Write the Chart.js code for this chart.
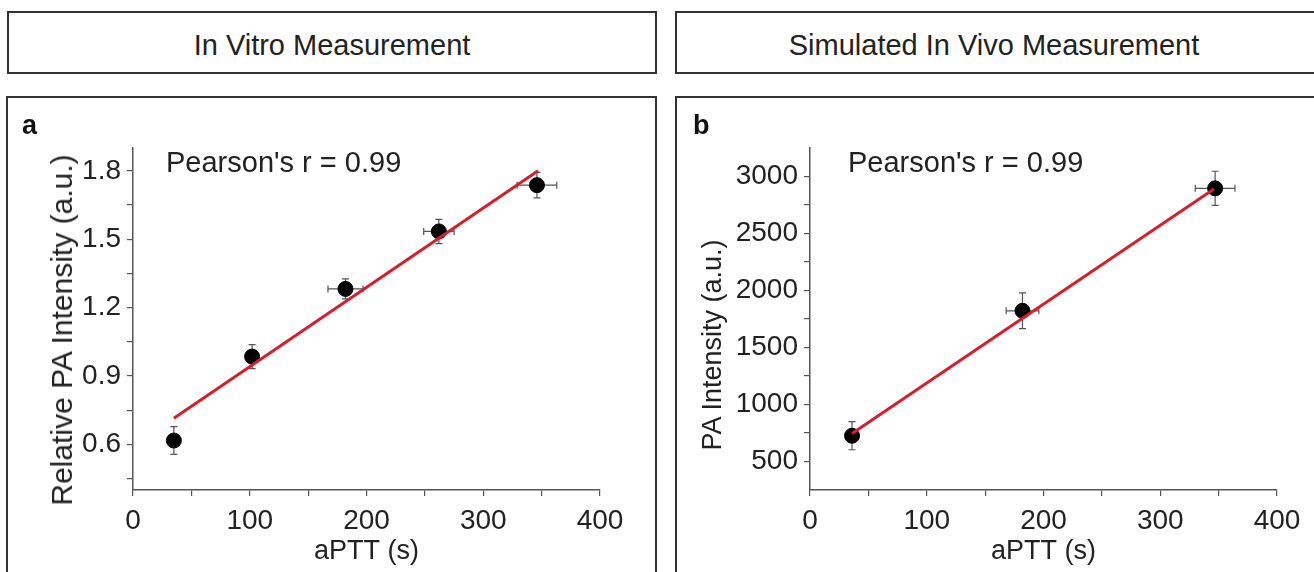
<!DOCTYPE html>
<html>
<head>
<meta charset="utf-8">
<script src="https://cdn.jsdelivr.net/npm/chart.js@4"></script>
<style>
  body { margin: 0; background: #fff; font-family: "Liberation Sans", Arial, sans-serif; }
  .box { position: absolute; border: 2px solid #333; box-sizing: border-box; background: #fff; }
  .head { display: flex; align-items: center; justify-content: center; font-size: 29px; color: #222; padding-top: 5px; }
  canvas { position: absolute; }
  .txt { position: absolute; font-size: 29px; line-height: 29px; color: #222; white-space: nowrap; }
  .tag { font-size: 27px; line-height: 27px; font-weight: bold; color: #111; }
  .ytitle { position: absolute; color: #222; white-space: nowrap; line-height: 1;
            transform: translate(-50%, -50%) rotate(-90deg); }
</style>
</head>
<body>
<div class="box head" style="left:7px;top:11px;width:650px;height:63px">In Vitro Measurement</div>
<div class="box head" style="left:675px;top:11px;width:660px;height:63px;padding-right:22px">Simulated In Vivo Measurement</div>
<div class="box" style="left:6px;top:96px;width:651px;height:500px"></div>
<div class="box" style="left:675px;top:96px;width:660px;height:500px"></div>
<canvas id="vitro" width="647" height="474" style="left:8px;top:98px"></canvas>
<canvas id="vivo" width="637" height="474" style="left:677px;top:98px"></canvas>
<div class="txt tag" style="left:22px;top:112px">a</div>
<div class="txt tag" style="left:693px;top:112px">b</div>
<div class="txt" style="left:166px;top:148px">Pearson's r = 0.99</div>
<div class="txt" style="left:848px;top:148px">Pearson's r = 0.99</div>
<div class="ytitle" style="left:62px;top:330px;font-size:30px">Relative PA Intensity (a.u.)</div>
<div class="ytitle" style="left:712px;top:345px;font-size:27px">PA Intensity (a.u.)</div>
<script>
// shared x axis
const xTicks = [0, 50, 100, 150, 200, 250, 300, 350, 400];
const xMajor = [0, 100, 200, 300, 400];

// a: in vitro
const vitroX = [35, 102, 182, 262, 346];
const vitroY = [0.617, 0.985, 1.282, 1.534, 1.737];
const vitroXErr = [0, 0, 15, 13, 17];
const vitroYErr = [0.061, 0.053, 0.044, 0.053, 0.056];
const vitroFitX = [35, 347];
const vitroFitY = [0.715, 1.80];
const vitroYTicks = [0.45, 0.6, 0.75, 0.9, 1.05, 1.2, 1.35, 1.5, 1.65, 1.8];
const vitroYMajor = [0.6, 0.9, 1.2, 1.5, 1.8];

// b: simulated in vivo
const vivoX = [36, 182, 347];
const vivoY = [726, 1822, 2896];
const vivoXErr = [0, 14, 17];
const vivoYErr = [123, 157, 150];
const vivoFitX = [36, 346];
const vivoFitY = [745, 2890];
const vivoYTicks = [500, 750, 1000, 1250, 1500, 1750, 2000, 2250, 2500, 2750, 3000];
const vivoYMajor = [500, 1000, 1500, 2000, 2500, 3000];

const FONT = "'Liberation Sans', Arial, sans-serif";
const isMajor = (list, v) => list.some(m => Math.abs(m - v) < 1e-6);

// error bars drawn behind the points
const errorBars = {
  id: 'errorBars',
  beforeDatasetsDraw(chart, args, opts) {
    const {ctx, scales: {x, y}} = chart;
    ctx.save();
    ctx.strokeStyle = '#555';
    ctx.lineWidth = 1.2;
    opts.xs.forEach((xv, i) => {
      const px = x.getPixelForValue(xv), py = y.getPixelForValue(opts.ys[i]);
      const cap = 3.5;
      if (opts.yErr[i]) {
        const y1 = y.getPixelForValue(opts.ys[i] - opts.yErr[i]);
        const y2 = y.getPixelForValue(opts.ys[i] + opts.yErr[i]);
        ctx.beginPath();
        ctx.moveTo(px, y1); ctx.lineTo(px, y2);
        ctx.moveTo(px - cap, y1); ctx.lineTo(px + cap, y1);
        ctx.moveTo(px - cap, y2); ctx.lineTo(px + cap, y2);
        ctx.stroke();
      }
      if (opts.xErr[i]) {
        const x1 = x.getPixelForValue(xv - opts.xErr[i]);
        const x2 = x.getPixelForValue(xv + opts.xErr[i]);
        ctx.beginPath();
        ctx.moveTo(x1, py); ctx.lineTo(x2, py);
        ctx.moveTo(x1, py - cap); ctx.lineTo(x1, py + cap);
        ctx.moveTo(x2, py - cap); ctx.lineTo(x2, py + cap);
        ctx.stroke();
      }
    });
    ctx.restore();
  }
};

function makeChart(id, d) {
  const ctx = document.getElementById(id).getContext('2d');
  return new Chart(ctx, {
    type: 'scatter',
    data: {
      datasets: [
        {
          type: 'line',
          data: d.fitX.map((v, i) => ({x: v, y: d.fitY[i]})),
          borderColor: '#d81e2c',
          borderWidth: 3,
          pointRadius: 0,
          order: 0
        },
        {
          data: d.xs.map((v, i) => ({x: v, y: d.ys[i]})),
          backgroundColor: '#000',
          borderColor: '#000',
          pointRadius: 7.5,
          order: 1
        }
      ]
    },
    options: {
      responsive: false,
      animation: false,
      devicePixelRatio: 1,
      layout: { padding: { left: 0, top: 50, right: d.padRight, bottom: 0 } },
      plugins: {
        legend: { display: false },
        tooltip: { enabled: false },
        errorBars: { xs: d.xs, ys: d.ys, xErr: d.xErr, yErr: d.yErr }
      },
      scales: {
        x: {
          type: 'linear',
          min: 0, max: 400,
          afterBuildTicks: s => { s.ticks = xTicks.map(v => ({value: v})); },
          afterFit: s => { s.height = 82; },
          border: { color: '#555', width: 1.5 },
          grid: { drawOnChartArea: false, tickLength: 6, color: '#555', lineWidth: 1.2 },
          ticks: {
            color: '#222', padding: 8, maxRotation: 0, autoSkip: false,
            font: { family: FONT, size: 28 },
            callback: v => isMajor(xMajor, v) ? String(v) : ''
          },
          title: { display: true, text: 'aPTT (s)', color: '#222',
                   font: { family: FONT, size: 27 }, padding: { top: 0, bottom: 4 } }
        },
        y: {
          type: 'linear',
          min: d.yMin, max: d.yMax,
          afterBuildTicks: s => { s.ticks = d.yTicks.map(v => ({value: v})); },
          afterFit: s => { s.width = d.yWidth; },
          border: { color: '#555', width: 1.5 },
          grid: { drawOnChartArea: false, tickLength: 6, color: '#555', lineWidth: 1.2 },
          ticks: {
            color: '#222', padding: 6, autoSkip: false,
            font: { family: FONT, size: 28 },
            callback: v => isMajor(d.yMajor, v) ? d.fmt(v) : ''
          }
        }
      }
    },
    plugins: [errorBars]
  });
}

makeChart('vitro', {
  xs: vitroX, ys: vitroY, xErr: vitroXErr, yErr: vitroYErr,
  fitX: vitroFitX, fitY: vitroFitY,
  yMin: 0.4, yMax: 1.9, yTicks: vitroYTicks, yMajor: vitroYMajor,
  fmt: v => v.toFixed(1),
  yWidth: 125, padRight: 55
});

makeChart('vivo', {
  xs: vivoX, ys: vivoY, xErr: vivoXErr, yErr: vivoYErr,
  fitX: vivoFitX, fitY: vivoFitY,
  yMin: 250, yMax: 3250, yTicks: vivoYTicks, yMajor: vivoYMajor,
  fmt: v => String(v),
  yWidth: 133, padRight: 37
});
</script>
</body>
</html>
